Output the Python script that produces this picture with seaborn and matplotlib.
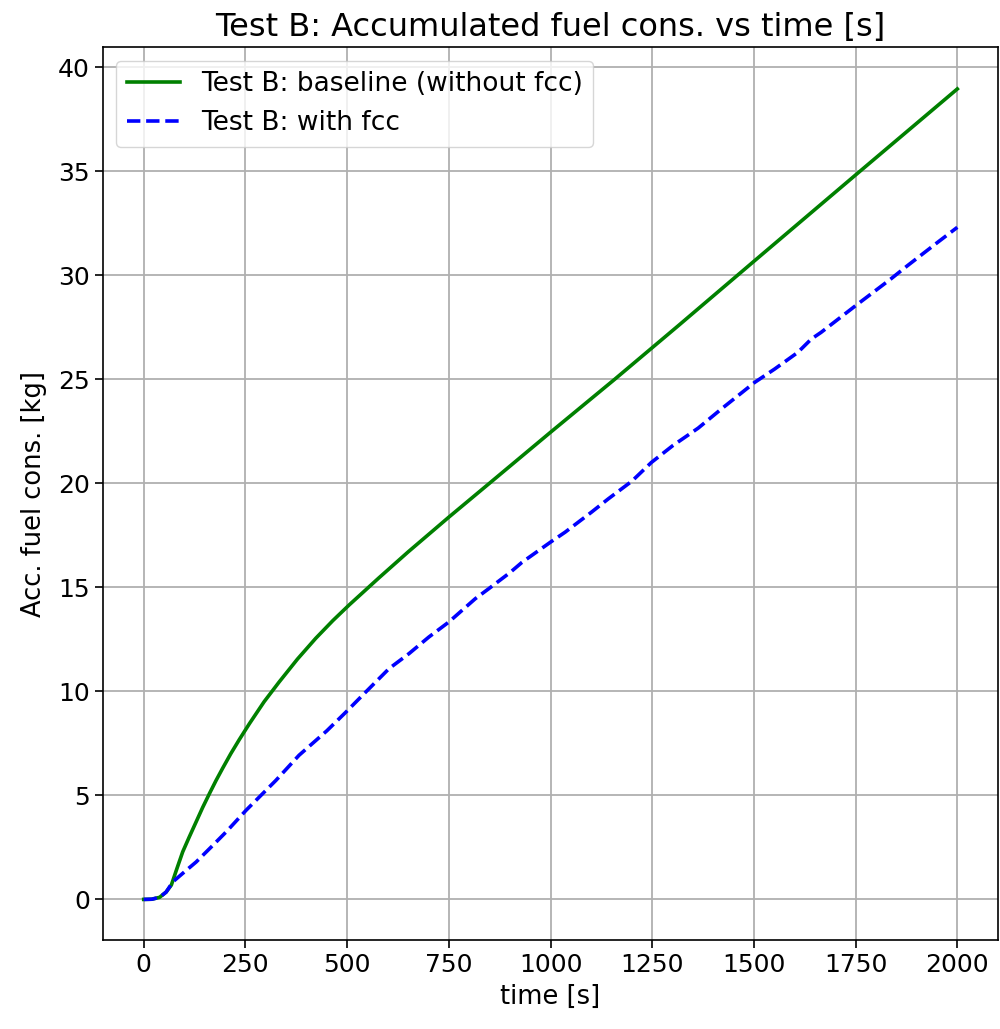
import matplotlib
matplotlib.use("Agg")
import matplotlib.pyplot as plt
import seaborn as sns

# values
time_base = [0, 20, 39, 55, 68, 82, 96, 112, 129, 145, 162, 178, 194, 214, 235,
             260, 296, 333, 378, 423, 465, 505, 578, 650, 750, 850, 1000, 1158,
             1314, 1502, 1755, 2000]
fuel_base = [0.0, 0.01, 0.1, 0.35, 0.69, 1.5, 2.29, 3.0, 3.73, 4.42, 5.1, 5.72,
             6.3, 7.0, 7.68, 8.45, 9.5, 10.45, 11.55, 12.55, 13.4, 14.15, 15.45,
             16.7, 18.37, 20.0, 22.45, 25.0, 27.57, 30.7, 34.9, 38.95]

time_fcc = [0, 20, 39, 55, 72, 100, 129, 165, 203, 252, 325, 382, 450, 497, 546,
            603, 652, 701, 750, 815, 848, 900, 930, 1000, 1036, 1100, 1142, 1200,
            1248, 1300, 1363, 1420, 1461, 1502, 1551, 1608, 1641, 1665, 1755,
            1836, 1877, 1951, 2000]
fuel_fcc = [0.0, 0.01, 0.1, 0.35, 0.85, 1.32, 1.8, 2.5, 3.25, 4.29, 5.72, 6.93,
            8.1, 9.0, 9.97, 11.09, 11.81, 12.61, 13.33, 14.45, 14.93, 15.7, 16.2,
            17.17, 17.65, 18.6, 19.25, 20.1, 21.0, 21.8, 22.65, 23.57, 24.21,
            24.85, 25.49, 26.29, 26.93, 27.25, 28.61, 29.81, 30.45, 31.57, 32.3]

label_base = "Test B: baseline (without fcc)"
label_fcc = "Test B: with fcc"

plt.rcParams['font.family'] = ['DejaVu Sans']

fig = plt.figure(figsize=(10, 10.29), dpi=100)
ax = fig.add_axes([0.103, 0.0865, 0.895, 0.8675])

sns.lineplot(x=time_base, y=fuel_base, ax=ax, color='green', lw=2.6, label=label_base)
sns.lineplot(x=time_fcc, y=fuel_fcc, ax=ax, color='blue', lw=2.6, linestyle='--',
             label=label_fcc)

ax.set_xticks([0, 250, 500, 750, 1000, 1250, 1500, 1750, 2000])
ax.set_yticks([0, 5, 10, 15, 20, 25, 30, 35, 40])
ax.set_xlim(-100, 2100)
ax.set_ylim(-1.95, 40.95)
ax.grid(True, color='#b0b0b0', lw=1.3)

ax.set_title("Test B: Accumulated fuel cons. vs time [s]", fontsize=23, pad=8)
ax.set_xlabel("time [s]", fontsize=18.5, labelpad=5)
ax.set_ylabel("Acc. fuel cons. [kg]", fontsize=18.5, labelpad=8)
ax.tick_params(labelsize=18, length=6, width=1.2)
for s in ax.spines.values():
    s.set_linewidth(1.2)

ax.legend(loc='upper left', fontsize=19)

fig.savefig('out.png', dpi=100)
